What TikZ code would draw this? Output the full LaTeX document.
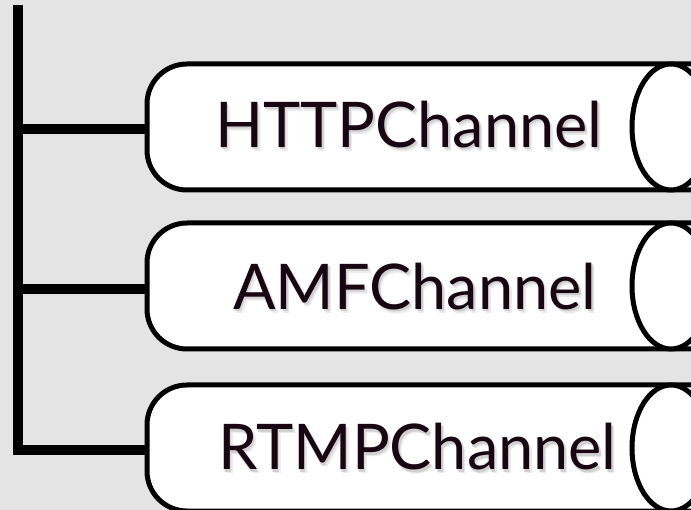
\documentclass[tikz,border=0pt]{standalone}
\usepackage{fontspec}
\setmainfont{Lato}
\definecolor{paper}{RGB}{228,228,228}
\definecolor{ink}{RGB}{24,6,18}
\definecolor{shadeA}{RGB}{208,208,208}
\definecolor{shadeB}{RGB}{234,234,234}

% label with a soft drop shadow behind it
\newcommand{\softshadow}[1]{%
    \makebox[0pt][l]{\kern3pt\raisebox{-4pt}{\color{shadeB}#1}}%
    \makebox[0pt][l]{\kern1.5pt\raisebox{-2pt}{\color{shadeA}#1}}%
    #1}

\tikzset{
    bus/.style={line width=10pt, line join=miter},
    pipe/.style={draw=black, line width=5pt, fill=white},
    lbl/.style={anchor=base west, inner sep=0pt, text=ink, font=\fontsize{63}{63}\selectfont}
}

\begin{document}
\begin{tikzpicture}[x=1pt, y=-1pt]

\useasboundingbox[fill=paper] (0,0) rectangle (691,510);

% trunk with the three taps
\coordinate (top) at (18,5);
\coordinate (http-in) at (147,129);
\coordinate (amf-in) at (147,289);
\coordinate (rtmp-in) at (147,450);

\draw[bus] (top) |- (rtmp-in);
\draw[bus] (top |- http-in) -- (http-in);
\draw[bus] (top |- amf-in) -- (amf-in);

% channels as pipes
\foreach \name/\cy/\tx/\ty/\txt in {http/127/215/148/HTTPChannel,
                                    amf/286/233/310/AMFChannel,
                                    rtmp/448/218/470/RTMPChannel} {
    \path[pipe, rounded corners=40pt] (720,\cy-63) -- (147,\cy-63) -- (147,\cy+63) -- (720,\cy+63);
    \draw[pipe] (671,\cy) ellipse [x radius=39pt, y radius=63pt];
    \node[lbl] (\name) at (\tx,\ty) {\softshadow{\txt}};
}

\end{tikzpicture}
\end{document}
